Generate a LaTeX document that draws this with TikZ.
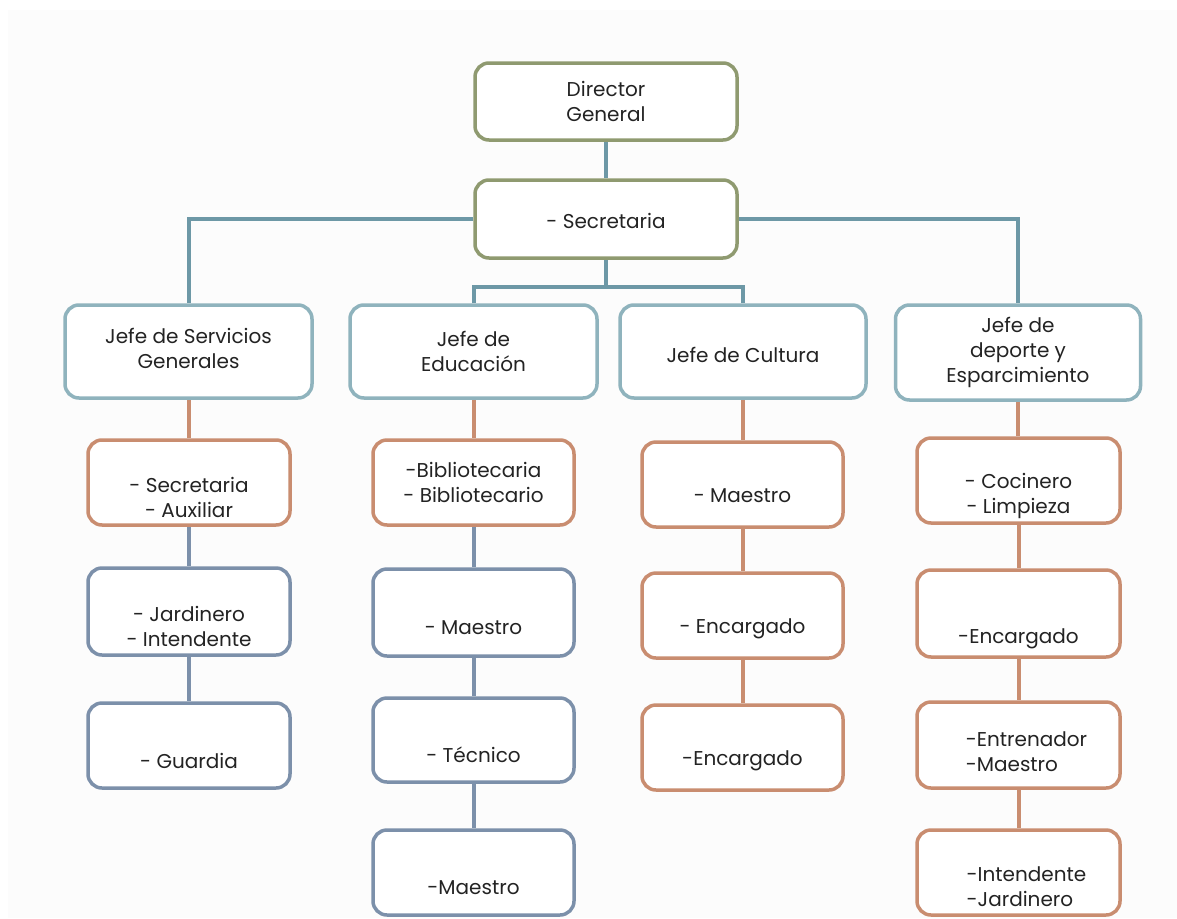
\documentclass[tikz,border=0pt]{standalone}
\usepackage{fontspec}
\setmainfont{Poppins}
\usetikzlibrary{backgrounds}
\definecolor{cOlive}{RGB}{143,154,112}
\definecolor{cJefe}{RGB}{143,179,189}
\definecolor{cTeal}{RGB}{109,152,166}
\definecolor{cOrange}{RGB}{201,141,112}
\definecolor{cSlate}{RGB}{124,144,170}
\definecolor{cText}{RGB}{35,35,35}
\definecolor{cPanel}{RGB}{252,252,252}
\tikzset{
  box/.style n args={2}{draw, rounded corners=14pt, line width=3.5pt, fill=white,
    minimum width=#1, minimum height=#2, inner sep=0pt},
  topbox/.style={draw=cOlive},
  jefebox/.style={draw=cJefe},
  orbox/.style={draw=cOrange},
  slbox/.style={draw=cSlate},
  txt/.style={text=cText, font=\fontsize{20}{25}\selectfont, align=center},
  txtl/.style={text=cText, font=\fontsize{20}{25}\selectfont, align=left},
  tealln/.style={draw=cTeal, line width=4pt},
  orln/.style={draw=cOrange, line width=4pt},
  slln/.style={draw=cSlate, line width=4pt}
}
\begin{document}
\begin{tikzpicture}[x=1pt,y=-1pt]
\useasboundingbox (0,0) rectangle (1177,918);
% top
\node[box={262}{77}, topbox, label={[txt]center:{Director\\General}}] (dir) at (606,101.5) {};
\node[box={262}{78}, topbox, label={[txt,yshift=-2pt]center:{- Secretaria}}] (sec) at (606,219) {};
% jefes
\node[box={247}{93}, jefebox, label={[txt,yshift=3pt]center:{Jefe de Servicios\\Generales}}] (js) at (188.5,351.5) {};
\node[box={247}{93}, jefebox, label={[txt]center:{Jefe de\\Educación}}] (je) at (473.5,351.5) {};
\node[box={246}{93}, jefebox, label={[txt,yshift=-3pt]center:{Jefe de Cultura}}] (jc) at (743,351.5) {};
\node[box={245}{95}, jefebox, label={[txt]center:{Jefe de\\deporte y\\Esparcimiento}}] (jd) at (1018,352.5) {};
% column 1
\node[box={202}{85}, orbox, label={[txt,yshift=-15pt]center:{- Secretaria\\- Auxiliar}}] (a1) at (189,482.5) {};
\node[box={202}{87}, slbox, label={[txt,yshift=-15pt]center:{- Jardinero\\- Intendente}}] (a2) at (189,611.5) {};
\node[box={202}{85}, slbox, label={[txt,yshift=-15pt]center:{- Guardia}}] (a3) at (189,745.5) {};
% column 2
\node[box={201}{85}, orbox, label={[txt]center:{-Bibliotecaria\\- Bibliotecario}}] (b1) at (473.5,482.5) {};
\node[box={201}{87}, slbox, label={[txt,yshift=-15pt]center:{- Maestro}}] (b2) at (473.5,612.5) {};
\node[box={201}{84}, slbox, label={[txt,yshift=-15pt]center:{- Técnico}}] (b3) at (473.5,740) {};
\node[box={201}{85}, slbox, label={[txt,yshift=-15pt]center:{-Maestro}}] (b4) at (473.5,872.5) {};
% column 3
\node[box={201}{85}, orbox, label={[txt,yshift=-11pt]center:{- Maestro}}] (c1) at (742.5,484.5) {};
\node[box={201}{85}, orbox, label={[txt,yshift=-13pt]center:{- Encargado}}] (c2) at (742.5,615.5) {};
\node[box={201}{85}, orbox, label={[txt,yshift=-13pt]center:{-Encargado}}] (c3) at (742.5,747.5) {};
% column 4
\node[box={203}{85}, orbox, label={[txt,yshift=-15pt]center:{- Cocinero\\- Limpieza}}] (d1) at (1018.5,480.5) {};
\node[box={203}{87}, orbox, label={[txt,yshift=-25pt]center:{-Encargado}}] (d2) at (1018.5,613.5) {};
\node[box={203}{86}, orbox, label={[txtl,yshift=-7pt,xshift=8pt]center:{-Entrenador\\-Maestro}}] (d3) at (1018.5,745) {};
\node[box={203}{85}, orbox, label={[txtl,yshift=-14pt,xshift=8pt]center:{-Intendente\\-Jardinero}}] (d4) at (1018.5,872.5) {};
\coordinate (bus) at (606,287);
\begin{scope}[on background layer]
\fill[cPanel] (8,10) rectangle (1177,918);
\draw[tealln] (dir.south) -- (sec.north);
\draw[tealln] (sec.west) -| (js.north);
\draw[tealln] (sec.east) -| (jd.north);
\draw[tealln] (sec.south) -- (bus);
\draw[tealln] (je.north) |- (bus) -| (jc.north);
% column 1
\draw[orln] (js.south) -- (js.south |- a1.north);
\draw[slln] (a1.south) -- (a2.north);
\draw[slln] (a2.south) -- (a3.north);
% column 2
\draw[orln] (je.south) -- (je.south |- b1.north);
\draw[slln] (b1.south) -- (b2.north);
\draw[slln] (b2.south) -- (b3.north);
\draw[slln] (b3.south) -- (b4.north);
% column 3
\draw[orln] (jc.south) -- (jc.south |- c1.north);
\draw[orln] (c1.south) -- (c2.north);
\draw[orln] (c2.south) -- (c3.north);
% column 4
\draw[orln] (jd.south) -- (jd.south |- d1.north);
\draw[orln] (d1.south) -- (d2.north);
\draw[orln] (d2.south) -- (d3.north);
\draw[orln] (d3.south) -- (d4.north);
\end{scope}
\end{tikzpicture}
\end{document}
